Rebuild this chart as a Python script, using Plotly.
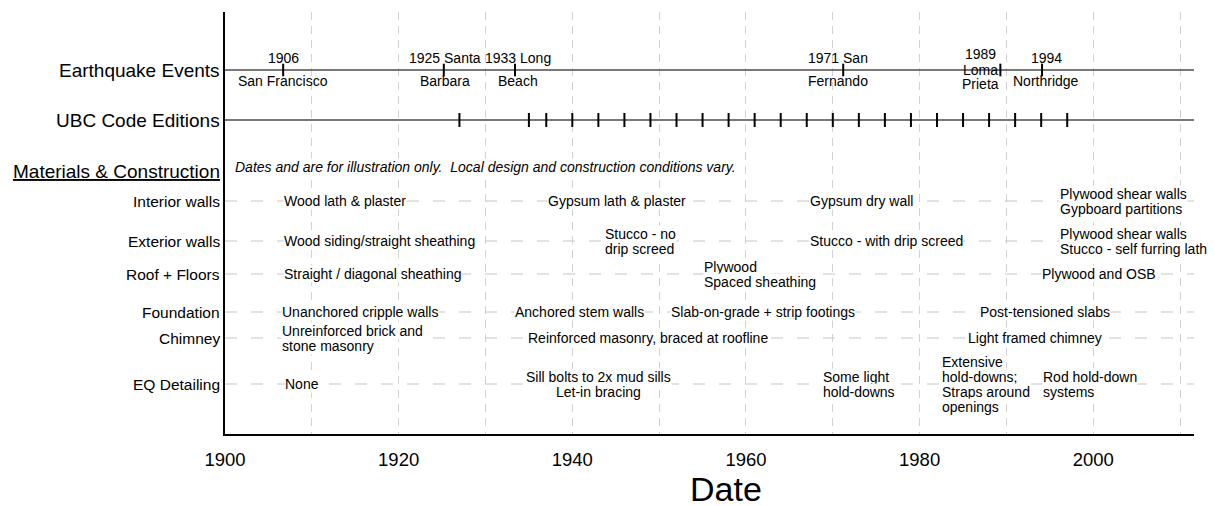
import plotly.graph_objects as go

FONT = "Liberation Sans, Arial, Helvetica, sans-serif"

quake_years = [1906.7, 1925.2, 1933.4, 1971.2, 1989.3, 1994.1]
quake_labels = [
    ["1906", "San Francisco"],
    ["1925 Santa", "Barbara"],
    ["1933 Long", "Beach"],
    ["1971 San", "Fernando"],
    ["1989", "Loma", "Prieta"],
    ["1994", "Northridge"],
]

ubc_years = [1927, 1935, 1937, 1940, 1943, 1946, 1949, 1952, 1955, 1958, 1961, 1964,
             1967, 1970, 1973, 1976, 1979, 1982, 1985, 1988, 1991, 1994, 1997]

rows = ["Interior walls", "Exterior walls", "Roof + Floors", "Foundation", "Chimney", "EQ Detailing"]

interior_years = [1906.7, 1937.1, 1967.3, 1996.0]
interior_items = ["Wood lath & plaster", "Gypsum lath & plaster", "Gypsum dry wall",
                  "Plywood shear walls<br>Gypboard partitions"]

exterior_years = [1906.7, 1943.7, 1967.3, 1996.0]
exterior_items = ["Wood siding/straight sheathing", "Stucco - no<br>drip screed",
                  "Stucco - with drip screed", "Plywood shear walls<br>Stucco - self furring lath"]

roof_years = [1906.7, 1955.0, 1994.0]
roof_items = ["Straight / diagonal sheathing", "Plywood<br>Spaced sheathing", "Plywood and OSB"]

foundation_years = [1906.5, 1933.3, 1951.3, 1986.8]
foundation_items = ["Unanchored cripple walls", "Anchored stem walls",
                    "Slab-on-grade + strip footings", "Post-tensioned slabs"]

chimney_years = [1906.5, 1934.8, 1985.4]
chimney_items = ["Unreinforced brick and<br>stone masonry",
                 "Reinforced masonry, braced at roofline", "Light framed chimney"]

# the "Sill bolts" block is centred on its year, the rest start at theirs
detailing_years = [1906.8, 1943.0, 1968.8, 1982.5, 1994.1]
detailing_items = ["None", "Sill bolts to 2x mud sills<br>Let-in bracing", "Some light<br>hold-downs",
                   "Extensive<br>hold-downs;<br>Straps around<br>openings", "Rod hold-down<br>systems"]
centered_items = {"Sill bolts to 2x mud sills<br>Let-in bracing"}

date_ticks = [1900, 1920, 1940, 1960, 1980, 2000]

# --- layout helpers ---------------------------------------------------------
x_lo, x_hi = 1900, 2011.6
# vertical position of each band (px from top of plot area)
row_y = {"events": 58, "ubc": 108, "header": 159, "note": 155,
         "Interior walls": 189, "Exterior walls": 229, "Roof + Floors": 262,
         "Foundation": 300, "Chimney": 326, "EQ Detailing": 372}
quake_shift = [0, 1, 3, -5, -20, 4]
LINE_GAP = 15

fig = go.Figure()

# solid timelines
for key in ("events", "ubc"):
    fig.add_trace(go.Scatter(x=[x_lo, x_hi], y=[row_y[key]] * 2, mode="lines",
                             line=dict(color="#4d4d4d", width=1.5), hoverinfo="skip", showlegend=False))

# dashed material rows
for r in rows:
    fig.add_trace(go.Scatter(x=[x_lo, x_hi], y=[row_y[r]] * 2, mode="lines",
                             line=dict(color="#c6c6c6", width=1, dash="12px,14px"),
                             hoverinfo="skip", showlegend=False))

fig.add_trace(go.Scatter(x=quake_years, y=[row_y["events"]] * len(quake_years), mode="markers",
                         marker=dict(symbol="line-ns", size=9, line=dict(color="black", width=2)),
                         showlegend=False, hoverinfo="x"))
fig.add_trace(go.Scatter(x=ubc_years, y=[row_y["ubc"]] * len(ubc_years), mode="markers",
                         marker=dict(symbol="line-ns", size=10, line=dict(color="black", width=2)),
                         showlegend=False, hoverinfo="x"))

annotations = []

# earthquake labels
for yr, lines, sh in zip(quake_years, quake_labels, quake_shift):
    offs = [-12, 11] if len(lines) == 2 else [-16, 0, 14]
    for line, off in zip(lines, offs):
        annotations.append(dict(x=yr, y=row_y["events"], text=line, showarrow=False,
                                xanchor="center", yanchor="middle", xshift=sh, yshift=-off,
                                font=dict(size=14, color="black")))

# material items
material_rows = [
    ("Interior walls", interior_years, interior_items),
    ("Exterior walls", exterior_years, exterior_items),
    ("Roof + Floors", roof_years, roof_items),
    ("Foundation", foundation_years, foundation_items),
    ("Chimney", chimney_years, chimney_items),
    ("EQ Detailing", detailing_years, detailing_items),
]
for name, yrs, items in material_rows:
    for yr, item in zip(yrs, items):
        lines = item.split("<br>")
        n = len(lines)
        for j, line in enumerate(lines):
            annotations.append(dict(x=yr, y=row_y[name], text=line, showarrow=False,
                                    xanchor="center" if item in centered_items else "left",
                                    yanchor="middle", yshift=-(j - (n - 1) / 2) * LINE_GAP,
                                    bgcolor="white", borderpad=0,
                                    font=dict(size=14, color="black")))

# left-hand band labels
for key, text, size in [("events", "Earthquake Events", 19), ("ubc", "UBC Code Editions", 19),
                        ("header", "<u>Materials & Construction</u>", 19)]:
    annotations.append(dict(x=0, xref="paper", y=row_y[key], text=text, showarrow=False,
                            xanchor="right", yanchor="middle", xshift=-3,
                            font=dict(size=size, color="black")))
for r in rows:
    annotations.append(dict(x=0, xref="paper", y=row_y[r], text=r, showarrow=False,
                            xanchor="right", yanchor="middle", xshift=-3,
                            font=dict(size=15.5, color="black")))

annotations.append(dict(x=1901.0, y=row_y["note"], showarrow=False, xanchor="left", yanchor="middle",
                        text="<i>Dates and are for illustration only.\u00a0 Local design and "
                             "construction conditions vary.</i>",
                        bgcolor="white", borderpad=0, font=dict(size=14, color="black")))

# axis title placed as an annotation so it can sit lower than plotly's margin allows
annotations.append(dict(x=0.5, xref="paper", y=0, yref="paper", text="Date", showarrow=False,
                        xanchor="center", yanchor="top", xshift=16, yshift=-34,
                        font=dict(size=34, color="black")))

grid = dict(showgrid=True, gridcolor="#d2d2d2", gridwidth=1, griddash="8px,6px")

fig.update_layout(
    width=1215, height=506,
    margin=dict(l=225, r=21, t=12, b=72),
    paper_bgcolor="white", plot_bgcolor="white",
    font=dict(family=FONT, color="black"),
    annotations=annotations,
    xaxis=dict(range=[x_lo, x_hi], tickvals=date_ticks, **grid,
               minor=dict(dtick=10, tick0=1900, **grid),
               showline=True, linecolor="black", linewidth=2, zeroline=False,
               ticks="outside", ticklen=8, tickcolor="rgba(0,0,0,0)",
               tickfont=dict(size=18.5, color="black"),
               automargin=False),
    yaxis=dict(range=[422, 0], showline=True, linecolor="black", linewidth=2,
               showticklabels=False, showgrid=False, zeroline=False, ticks=""),
)

# drop the browser's default body margin so the figure sits at the window origin
fig.write_html("out.html", config={"displayModeBar": False},
               post_script="document.body.style.margin='0';")
